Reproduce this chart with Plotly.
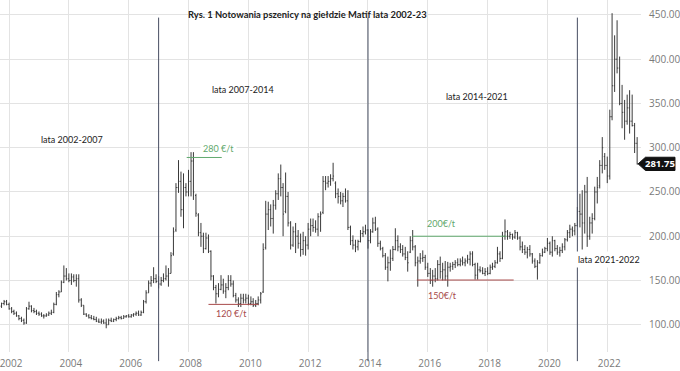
import pandas as pd
import plotly.graph_objects as go

# Monthly MATIF wheat bars, Oct 2001 .. Jan 2023 (EUR/t)
dates = pd.date_range("2001-10-01", "2023-01-01", freq="MS")

opens = [
    121, 124, 126,
    123, 118, 115, 113, 110, 107, 105, 102, 118, 121, 116, 115,
    113, 112, 110, 110, 111, 113, 114, 123, 134, 137, 148, 155,
    152, 150, 154, 150, 152, 128, 122, 112, 110, 108, 107, 106,
    104, 103, 104, 102, 100, 105, 104, 106, 107, 108, 107, 109,
    110, 109, 111, 112, 113, 111, 114, 126, 136, 147, 150, 152,
    149, 146, 150, 152, 155, 158, 180, 207, 255, 262, 230, 255,
    250, 262, 285, 246, 224, 204, 200, 186, 198, 183, 155, 142,
    135, 140, 145, 138, 142, 150, 146, 133, 128, 124, 130, 128,
    130, 124, 126, 122, 124, 128, 137, 187, 225, 230, 220, 235,
    248, 265, 255, 228, 245, 215, 190, 205, 200, 192, 185, 195,
    190, 208, 212, 210, 208, 222, 227, 262, 260, 262, 265, 260,
    248, 245, 240, 245, 240, 210, 195, 190, 188, 194, 203, 205,
    207, 195, 205, 215, 208, 192, 186, 178, 165, 170, 175, 185,
    195, 188, 185, 180, 176, 182, 195, 188, 170, 172, 175, 176,
    165, 158, 150, 155, 152, 168, 160, 162, 155, 165, 166, 168,
    170, 168, 172, 170, 172, 174, 180, 168, 156, 162, 161, 158,
    160, 158, 165, 166, 170, 180, 175, 200, 205, 200, 202, 199,
    204, 198, 188, 185, 182, 185, 180, 172, 166, 170, 178, 182,
    186, 192, 182, 195, 186, 182, 184, 188, 196, 204, 208, 206,
    212, 228, 225, 215, 250, 200, 215, 220, 250, 257, 280, 290,
    280, 268, 335, 370, 400, 390, 350, 340, 330, 345, 330, 325,
    305,
]
highs = [
    125, 128, 128,
    125, 120, 117, 115, 111, 109, 107, 120, 126, 122, 119, 117,
    115, 114, 112, 113, 115, 117, 125, 137, 139, 150, 167, 164,
    158, 158, 157, 157, 157, 130, 122, 113, 112, 111, 110, 109,
    107, 107, 106, 107, 107, 108, 107, 109, 110, 110, 111, 111,
    112, 112, 113, 115, 116, 116, 128, 139, 150, 155, 165, 157,
    155, 154, 158, 167, 164, 182, 210, 260, 286, 273, 271, 260,
    275, 295, 295, 248, 226, 215, 204, 204, 202, 184, 156, 145,
    147, 156, 152, 147, 156, 156, 150, 136, 131, 135, 135, 135,
    134, 132, 130, 128, 132, 137, 192, 240, 239, 236, 241, 252,
    271, 281, 260, 272, 250, 217, 211, 215, 207, 203, 205, 200,
    215, 220, 220, 218, 226, 228, 268, 268, 268, 270, 283, 262,
    254, 250, 249, 254, 252, 212, 201, 196, 196, 207, 211, 213,
    208, 208, 221, 222, 210, 195, 188, 181, 177, 185, 189, 209,
    201, 192, 190, 188, 183, 200, 207, 190, 177, 181, 184, 179,
    170, 164, 162, 164, 173, 177, 170, 172, 171, 170, 171, 173,
    175, 175, 177, 175, 179, 183, 183, 170, 170, 166, 165, 164,
    165, 168, 170, 173, 188, 183, 205, 219, 207, 205, 203, 207,
    205, 200, 194, 190, 188, 190, 181, 175, 173, 181, 186, 188,
    198, 194, 200, 196, 190, 188, 192, 198, 207, 213, 211, 215,
    233, 248, 252, 258, 267, 222, 226, 256, 267, 286, 312, 294,
    290, 343, 452, 427, 444, 403, 371, 354, 360, 365, 360, 328,
    312,
]
lows = [
    119, 122, 122,
    117, 113, 111, 109, 105, 103, 100, 101, 117, 114, 113, 111,
    110, 109, 107, 109, 110, 111, 113, 122, 131, 137, 147, 150,
    148, 145, 148, 143, 125, 120, 111, 109, 107, 106, 105, 103,
    102, 101, 101, 96, 100, 103, 103, 104, 106, 106, 107, 108,
    108, 108, 109, 110, 110, 110, 113, 124, 136, 143, 147, 147,
    141, 144, 148, 150, 143, 158, 178, 205, 249, 222, 209, 245,
    245, 245, 241, 222, 200, 188, 181, 185, 181, 150, 139, 124,
    131, 139, 135, 130, 139, 143, 131, 125, 120, 120, 124, 124,
    122, 122, 120, 120, 122, 124, 136, 185, 207, 211, 203, 230,
    241, 245, 200, 226, 211, 185, 188, 181, 186, 177, 179, 178,
    185, 200, 205, 204, 200, 205, 225, 252, 255, 257, 262, 243,
    237, 236, 233, 238, 207, 190, 185, 182, 184, 193, 199, 202,
    186, 192, 204, 206, 188, 184, 176, 162, 149, 161, 172, 184,
    183, 181, 177, 173, 160, 181, 184, 166, 143, 169, 171, 162,
    154, 146, 143, 148, 150, 152, 150, 150, 143, 160, 162, 164,
    166, 166, 167, 166, 169, 167, 166, 151, 151, 159, 157, 155,
    156, 157, 162, 164, 169, 171, 174, 196, 196, 197, 196, 197,
    196, 184, 181, 179, 175, 177, 169, 164, 151, 169, 177, 181,
    183, 179, 177, 183, 179, 177, 181, 184, 194, 198, 200, 201,
    211, 210, 185, 203, 188, 196, 203, 218, 237, 254, 271, 275,
    260, 264, 331, 363, 384, 348, 322, 309, 326, 316, 324, 294,
    281,
]
closes = [
    124, 126, 123,
    118, 115, 113, 110, 107, 105, 102, 118, 121, 116, 115, 113,
    112, 110, 110, 111, 113, 114, 123, 134, 137, 148, 155, 152,
    150, 154, 150, 152, 128, 122, 112, 110, 108, 107, 106, 104,
    103, 104, 102, 100, 105, 104, 106, 107, 108, 107, 109, 110,
    109, 111, 112, 113, 111, 114, 126, 136, 147, 150, 152, 149,
    146, 150, 152, 155, 158, 178, 205, 255, 262, 230, 255, 250,
    262, 285, 250, 226, 204, 200, 186, 198, 183, 155, 142, 135,
    140, 145, 138, 142, 150, 146, 133, 128, 124, 130, 128, 130,
    124, 126, 122, 124, 128, 135, 185, 225, 230, 220, 235, 248,
    265, 255, 225, 245, 215, 190, 205, 200, 192, 185, 195, 190,
    208, 212, 210, 208, 222, 225, 262, 260, 262, 265, 268, 248,
    245, 240, 245, 240, 210, 195, 190, 188, 194, 203, 205, 207,
    195, 205, 215, 208, 192, 186, 178, 165, 170, 175, 185, 195,
    188, 185, 180, 176, 170, 195, 188, 170, 172, 175, 176, 165,
    158, 150, 155, 152, 168, 160, 162, 155, 165, 166, 168, 170,
    168, 172, 170, 172, 174, 180, 168, 156, 162, 161, 158, 160,
    158, 165, 166, 170, 180, 175, 200, 205, 200, 202, 199, 204,
    198, 188, 185, 182, 185, 180, 172, 166, 170, 178, 182, 186,
    192, 182, 195, 186, 182, 184, 188, 196, 204, 208, 206, 212,
    228, 225, 215, 250, 200, 215, 220, 250, 255, 280, 300, 280,
    268, 335, 370, 400, 390, 350, 340, 330, 345, 330, 325, 305,
    281.75,
]

# Axis ticks
year_ticks = [f"{y}-01-01" for y in range(2002, 2023, 2)]
year_labels = [str(y) for y in range(2002, 2023, 2)]
price_ticks = [100, 150, 200, 250, 300, 350, 400, 450]

# Period separators and level annotations
separators = ["2007-01-01", "2014-01-01", "2021-01-01"]
last_price = 281.75

BAR = "#3a3a3a"
GREEN = "#5fa86c"
RED = "#a84a4a"
SEP = "#474e62"
FONT = "Lato"

fig = go.Figure(go.Ohlc(
    x=dates, open=opens, high=highs, low=lows, close=closes,
    increasing=dict(line=dict(color=BAR, width=1)),
    decreasing=dict(line=dict(color=BAR, width=1)),
    tickwidth=0.4, hoverinfo="skip", showlegend=False,
))

shapes = []
for d in separators:
    shapes.append(dict(type="line", xref="x", yref="paper", x0=d, x1=d,
                       y0=-0.026, y1=0.95, line=dict(color=SEP, width=1)))
# level lines
shapes.append(dict(type="line", xref="x", yref="y", x0="2007-12-10", x1="2009-02-10",
                   y0=289, y1=289, line=dict(color=GREEN, width=1)))
shapes.append(dict(type="line", xref="x", yref="y", x0="2008-09-01", x1="2010-05-05",
                   y0=123, y1=123, line=dict(color=RED, width=1)))
shapes.append(dict(type="line", xref="x", yref="y", x0="2015-06-25", x1="2018-08-20",
                   y0=200, y1=200, line=dict(color=GREEN, width=1)))
shapes.append(dict(type="line", xref="x", yref="y", x0="2015-08-20", x1="2018-11-15",
                   y0=150.5, y1=150.5, line=dict(color=RED, width=1)))
# last price tag
shapes.append(dict(type="path", xref="paper", yref="y",
                   path=f"M 0.9955,{last_price} L 1.0070,{last_price + 7.5} L 1.0530,{last_price + 7.5} "
                        f"L 1.0530,{last_price - 7.5} L 1.0070,{last_price - 7.5} Z",
                   fillcolor="#111111", line=dict(color="#111111", width=1)))

W, H = 645.0, 352.0
def px(x, y):
    return x / W, 1 - y / H

annotations = []
def add_text(text, x, y, size=9, color="#222222", bold=False, bg=None):
    ax, ay = px(x, y)
    annotations.append(dict(
        text=f"<b>{text}</b>" if bold else text, xref="paper", yref="paper",
        x=ax, y=ay, xanchor="center", yanchor="middle", showarrow=False,
        font=dict(family=FONT, size=size, color=color),
        bgcolor=bg, borderpad=2,
    ))

add_text("Rys. 1 Notowania pszenicy na giełdzie Matif lata 2002-23", 309, 15, size=9.4, bold=True)
add_text("lata 2002-2007", 72, 139)
add_text("lata 2007-2014", 245, 89)
add_text("lata 2014-2021", 480, 96)
add_text("lata 2021-2022", 613, 259, bg="white")
add_text("280 €/t", 220, 148, color=GREEN, bg="white")
add_text("120 €/t", 233, 313, color=RED)
add_text("200€/t", 444, 223, color=GREEN)
add_text("150€/t", 445, 295, color=RED)
annotations.append(dict(text=f"<b>{last_price:.2f}</b>", xref="paper", yref="y",
                        x=1.0300, y=last_price, xanchor="center", yanchor="middle",
                        showarrow=False, font=dict(family="Open Sans", size=9.5, color="white")))

fig.update_layout(
    width=680, height=371,
    margin=dict(l=0, r=35, t=0, b=19),
    paper_bgcolor="white", plot_bgcolor="white",
    shapes=shapes, annotations=annotations,
    xaxis=dict(type="date", range=["2001-09-12", "2023-02-17"],
               tickvals=year_ticks, ticktext=year_labels,
               showgrid=True, gridcolor="#e3e3e3", gridwidth=1,
               zeroline=False, showline=False, ticks="",
               ticklabelstandoff=4, ticklabelshift=2, ticklabeloverflow="allow",
               tickfont=dict(family="Open Sans", size=10, color="#7a7a7a"),
               rangeslider=dict(visible=False)),
    yaxis=dict(side="right", range=[69.2, 466.9], tickvals=price_ticks,
               tickformat=".2f", showgrid=True, gridcolor="#e3e3e3", gridwidth=1,
               zeroline=False, showline=False, ticks="", ticklabelstandoff=7,
               tickfont=dict(family="Open Sans", size=10, color="#7a7a7a")),
)

fig.write_html("out.html", config={"displayModeBar": False},
               post_script="document.body.style.margin='0';")
